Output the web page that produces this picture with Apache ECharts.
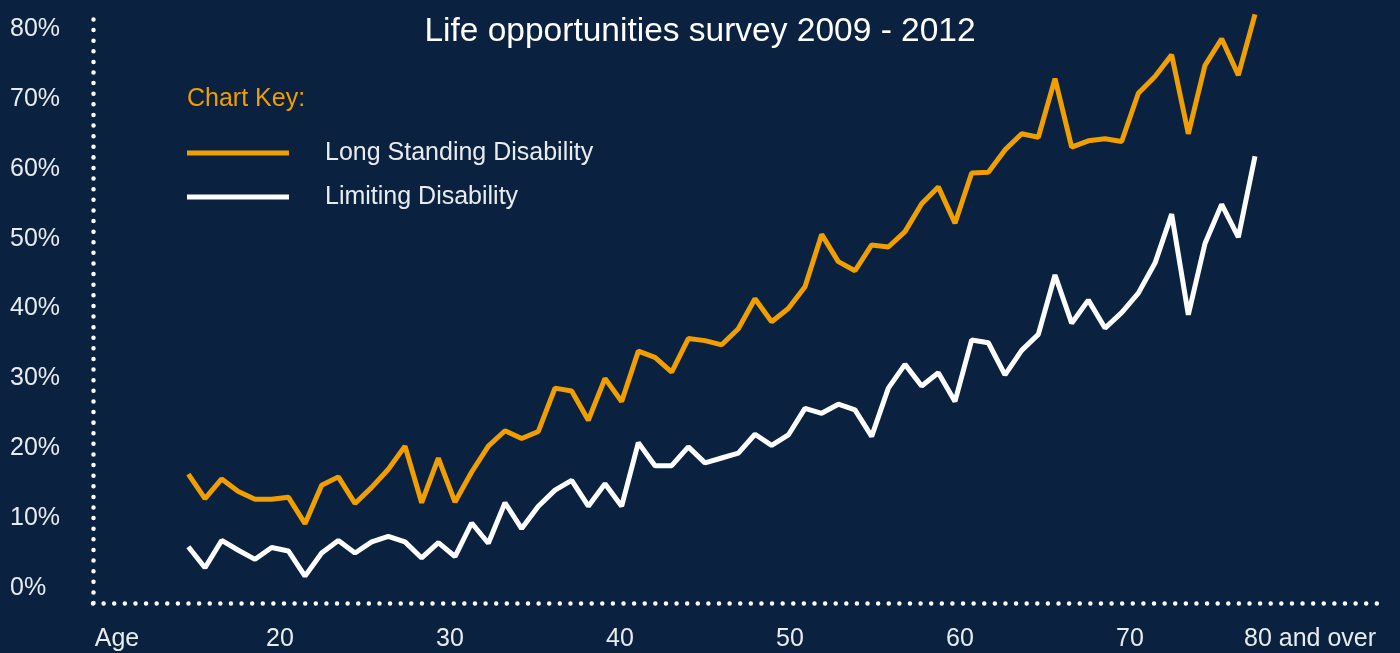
<!DOCTYPE html>
<html>
<head>
<meta charset="utf-8">
<script src="https://cdn.jsdelivr.net/npm/echarts@6/dist/echarts.min.js"></script>
<style>
  html, body { margin: 0; padding: 0; background: #0a223f; }
  #main { width: 1400px; height: 653px; }
</style>
</head>
<body>
<div id="main"></div>
<script>
// ages 16 .. 80 (last point is "80 and over")
const ages = [];
for (let a = 16; a <= 80; a++) ages.push(a);

// % of people
const longStanding = [
    16.3, 12.8, 15.6, 13.8, 12.7, 12.7, 13.0, 9.2, 14.7, 15.9,
    12.1, 14.4, 17.0, 20.3, 12.2, 18.6, 12.3, 16.6, 20.3, 22.5,
    21.4, 22.4, 28.6, 28.2, 24.0, 30.0, 26.7, 33.9, 33.0, 30.9,
    35.7, 35.4, 34.8, 37.1, 41.4, 38.1, 40.0, 43.1, 50.6, 46.7,
    45.4, 49.1, 48.8, 51.0, 55.0, 57.4, 52.2, 59.4, 59.5, 62.7,
    65.0, 64.5, 72.9, 63.1, 64.0, 64.3, 63.9, 70.8, 73.2, 76.3,
    65.0, 74.8, 78.6, 73.4, 82.1
];
const limiting = [
    5.9, 2.9, 6.8, 5.4, 4.1, 5.8, 5.3, 1.7, 5.0, 6.8,
    5.0, 6.6, 7.4, 6.6, 4.3, 6.5, 4.5, 9.3, 6.4, 12.2,
    8.5, 11.7, 14.0, 15.4, 11.7, 14.9, 11.7, 20.8, 17.5, 17.5,
    20.2, 17.9, 18.6, 19.3, 22.0, 20.4, 21.9, 25.7, 25.0, 26.3,
    25.5, 21.7, 28.6, 32.0, 28.9, 30.8, 26.7, 35.5, 35.1, 30.5,
    34.0, 36.3, 44.8, 37.9, 41.2, 37.2, 39.4, 42.2, 46.5, 53.5,
    39.1, 49.3, 54.9, 50.2, 61.8
];

// x axis tick labels
const tickLabels = {10: 'Age', 20: '20', 30: '30', 40: '40', 50: '50', 60: '60', 70: '70', 80: '80 and over'};

const ORANGE = '#f09e00';
const TEXT = '#e9ecef';
const FONT = '"Liberation Sans", Arial, Helvetica, sans-serif';

const dotted = {
    color: '#ffffff',
    width: 4.5,
    type: [0.01, 10.6],
    cap: 'round'
};

function pairs(values) {
    return values.map((v, i) => [ages[i], v]);
}

const chart = echarts.init(document.getElementById('main'));
const option = {
    backgroundColor: '#0a223f',
    animation: false,
    textStyle: { fontFamily: FONT },
    title: [{
        text: 'Life opportunities survey 2009 - 2012',
        left: 'center',
        top: 15,
        padding: 0,
        textStyle: { color: '#ffffff', fontSize: 33.5, fontWeight: 'normal', fontFamily: FONT }
    }, {
        text: 'Chart Key:',
        left: 187,
        top: 87,
        padding: 0,
        textStyle: { color: ORANGE, fontSize: 25, fontWeight: 'normal', fontFamily: FONT }
    }],
    legend: {
        orient: 'vertical',
        left: 187,
        top: 135,
        padding: 0,
        itemWidth: 102,
        itemHeight: 5,
        itemGap: 8,
        icon: 'rect',
        textStyle: { color: TEXT, fontSize: 25, lineHeight: 30, padding: [0, 0, 6, 31], fontFamily: FONT },
        data: ['Long Standing Disability', 'Limiting Disability']
    },
    grid: { left: 93, right: 15, top: 10, bottom: 50 },
    xAxis: [{
        // label axis
        type: 'value',
        min: 9,
        max: 85,
        splitNumber: 8,
        minInterval: 10,
        maxInterval: 10,
        axisLine: { show: true, onZero: false, lineStyle: dotted },
        axisTick: { show: false },
        splitLine: { show: false },
        axisLabel: {
            color: TEXT,
            fontSize: 25,
            margin: 24,
            fontFamily: FONT,
            formatter: v => {
                if (v === 10) return '{age|Age}';
                if (v === 80) return '{last|80 and over}';
                return tickLabels[v] || '';
            },
            rich: {
                age: { fontSize: 25, color: TEXT, padding: [0, 0, 0, 14], fontFamily: FONT },
                last: { fontSize: 25, color: TEXT, padding: [0, 0, 0, 20], fontFamily: FONT }
            }
        }
    }, {
        // data axis
        type: 'value',
        min: 10.28,
        max: 87.8,
        show: false
    }],
    yAxis: {
        type: 'value',
        min: -2.15,
        max: 82.72,
        splitNumber: 8,
        minInterval: 10,
        maxInterval: 10,
        axisLine: { show: true, onZero: false, lineStyle: dotted },
        axisTick: { show: false },
        splitLine: { show: false },
        axisLabel: {
            color: TEXT,
            fontSize: 25,
            align: 'left',
            margin: 83,
            fontFamily: FONT,
            formatter: v => (Math.abs(v % 10) < 1e-6 && v >= 0 && v <= 80) ? Math.round(v) + '%' : ''
        }
    },
    series: [{
        name: 'Long Standing Disability',
        type: 'line',
        xAxisIndex: 1,
        data: pairs(longStanding),
        symbol: 'none',
        color: ORANGE,
        lineStyle: { color: ORANGE, width: 5 }
    }, {
        name: 'Limiting Disability',
        type: 'line',
        xAxisIndex: 1,
        data: pairs(limiting),
        symbol: 'none',
        color: '#ffffff',
        lineStyle: { color: '#ffffff', width: 5 }
    }]
};
chart.setOption(option);
</script>
</body>
</html>
